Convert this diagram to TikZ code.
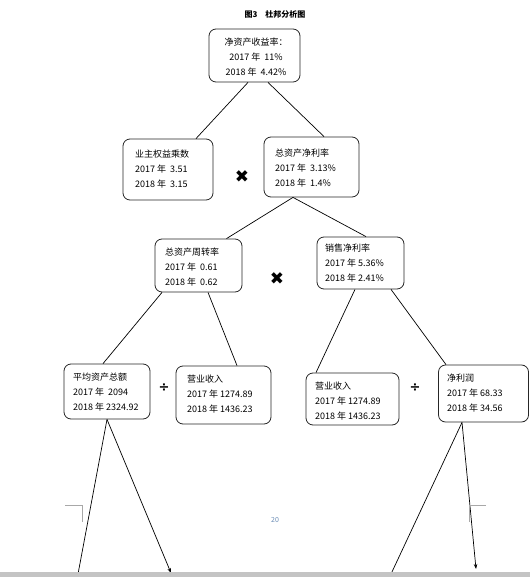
\documentclass[tikz,border=0pt]{standalone}
\usepackage{fontspec}
\setmainfont{Noto Sans CJK SC}
\newfontfamily\symfont{DejaVu Sans}
\usetikzlibrary{arrows.meta}
\definecolor{pgnum}{HTML}{6A8CB5}
\definecolor{markgray}{HTML}{A8A8A8}
\definecolor{bargray}{HTML}{C4C4C4}
\tikzset{
  box/.style={draw=black!85, line width=0.8pt, rounded corners=7pt, inner sep=0pt},
  txt/.style={inner sep=0pt, align=left, anchor=north west, font=\fontsize{9}{15}\selectfont},
  ctxt/.style={inner sep=0pt, align=center, anchor=north, font=\fontsize{9}{15}\selectfont},
  link/.style={line width=0.7pt, black},
  arr/.style={line width=0.7pt, black, -{Stealth[length=5pt,width=3.5pt]}},
  opsign/.style={inner sep=0pt, font=\symfont\bfseries\fontsize{17}{17}\selectfont},
  divsign/.style={inner sep=0pt, font=\symfont\bfseries\fontsize{13}{13}\selectfont}
}
\begin{document}
\begin{tikzpicture}[x=1pt,y=-1pt]
\useasboundingbox (0,0) rectangle (530,577);
% title
\node[inner sep=0pt, font=\fontsize{8}{8}\selectfont\bfseries] (title) at (275,15) {图3\quad 杜邦分析图};
% boxes
\node[box, minimum width=91pt, minimum height=53pt] (top) at (254.5,55.5) {};
\node[box, minimum width=90pt, minimum height=61pt] (b1) at (168,169.5) {};
\node[box, minimum width=95pt, minimum height=60pt] (b2) at (311.5,167) {};
\node[box, minimum width=87pt, minimum height=53pt] (c1) at (198.5,265.5) {};
\node[box, minimum width=87pt, minimum height=52pt] (c2) at (360.5,263) {};
\node[box, minimum width=86pt, minimum height=55pt] (d1) at (107,391.5) {};
\node[box, minimum width=95pt, minimum height=58pt] (d2) at (223.5,395) {};
\node[box, minimum width=93pt, minimum height=52pt] (d3) at (352.5,399) {};
\node[box, minimum width=90pt, minimum height=57pt] (d4) at (483.5,393.5) {};
% texts
\node[ctxt] (ttop) at (256,37.5) {净资产收益率：\\2017 年\ \ 11\%\\2018 年\ \ 4.42\%};
\node[txt] (tb1) at (135,149.5) {业主权益乘数\\2017 年\ \ 3.51\\2018 年\ \ 3.15};
\node[txt] (tb2) at (275,148.5) {总资产净利率\\2017 年\ \ 3.13\%\\2018 年\ \ 1.4\%};
\node[txt] (tc1) at (165,247.5) {总资产周转率\\2017 年\ \ 0.61\\2018 年\ \ 0.62};
\node[txt] (tc2) at (325,243.5) {销售净利率\\2017 年 5.36\%\\2018 年 2.41\%};
\node[txt] (td1) at (73,372.5) {平均资产总额\\2017 年\ \ 2094\\2018 年 2324.92};
\node[txt] (td2) at (187,374.5) {营业收入\\2017 年 1274.89\\2018 年 1436.23};
\node[txt] (td3) at (315,381.5) {营业收入\\2017 年 1274.89\\2018 年 1436.23};
\node[txt] (td4) at (447,373.5) {净利润\\2017 年 68.33\\2018 年 34.56};
% operators
\node[opsign] (x1) at (242,177) {✖};
\node[opsign] (x2) at (277,279) {✖};
\node[divsign] (div1) at (164,388) {÷};
\node[divsign] (div2) at (415,388) {÷};
% connectors
\draw[link] ([xshift=-6.5pt]top.south) -- ([xshift=28pt]b1.north);
\draw[link] ([xshift=13.5pt]top.south) -- ([xshift=12.5pt]b2.north);
\draw[link] ([xshift=-18.5pt]b2.south) -- ([xshift=28pt]c1.north);
\draw[link] ([xshift=-18.5pt]b2.south) -- ([xshift=5.5pt]c2.north);
\draw[link] ([xshift=-36.5pt]c1.south) -- ([xshift=-4pt]d1.north);
\draw[link] ([xshift=9.5pt]c1.south) -- ([xshift=13.5pt]d2.north);
\draw[link] ([xshift=-5.5pt]c2.south) -- ([xshift=-36.5pt]d3.north);
\draw[link] ([xshift=30.5pt]c2.south) -- ([xshift=-37.5pt]d4.north);
\coordinate (e1) at (78,574);
\coordinate (e2) at (171,573);
\coordinate (e3) at (391,574);
\coordinate (e4) at (476,569);
\draw[link] (d1.south) -- (e1);
\draw[arr] (d1.south) -- (e2);
\draw[link] ([xshift=-21.5pt]d4.south) -- (e3);
\draw[arr] ([xshift=-21.5pt]d4.south) -- (e4);
% page marks
\draw[markgray, line width=0.6pt] (65,505) -- (82,505) -- (82,522);
\draw[markgray, line width=0.6pt] (486,505) -- (469,505) -- (469,522);
\node[inner sep=0pt, text=pgnum, font=\fontsize{7}{7}\selectfont] (pg) at (275,520) {20};
% bottom bar
\fill[bargray] (0,572) rectangle (530,577);
\end{tikzpicture}
\end{document}
